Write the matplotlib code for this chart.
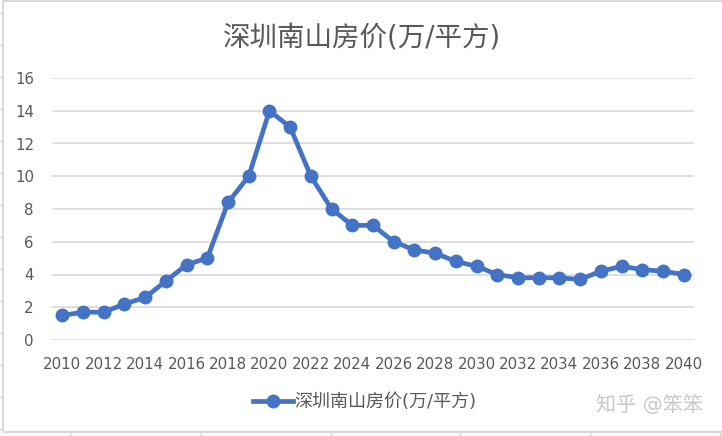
import matplotlib
matplotlib.use("Agg")
from matplotlib import pyplot as plt
from matplotlib.lines import Line2D
import numpy as np

# fonts: latin first, CJK as fallback
plt.rcParams['font.family'] = ['DejaVu Sans', 'Noto Sans CJK SC']

# data
years = list(range(2010, 2041))
price = [1.5, 1.7, 1.7, 2.2, 2.6, 3.6, 4.6, 5.0, 8.4, 10.0,
         14.0, 13.0, 10.0, 8.0, 7.0, 7.0, 6.0, 5.5, 5.3, 4.8,
         4.5, 4.0, 3.8, 3.8, 3.8, 3.7, 4.2, 4.5, 4.3, 4.2, 4.0]
tick_years = years[::2]
y_ticks = [0, 2, 4, 6, 8, 10, 12, 14, 16]
title = "深圳南山房价(万/平方)"

W, H = 722, 436
fig = plt.figure(figsize=(W / 100, H / 100), dpi=100)

def px(x, y):
    # pixel (from top-left) -> figure fraction
    return x / W, 1 - y / H

# spreadsheet background: cell marks and chart area border
for yy in range(13, 436, 32):
    fig.add_artist(Line2D([0, 3 / W], [1 - yy / H] * 2, color='#D0D0D0', lw=1))
for xx in [70, 201, 331, 460, 590, 720]:
    fig.add_artist(Line2D([xx / W] * 2, [0, 4 / H], color='#D0D0D0', lw=1))
fig.add_artist(Line2D([3 / W, 3 / W, 1.0], [1 - 1 / H, 1 - 432 / H, 1 - 432 / H],
                      color='#D9D9D9', lw=1.5))
fig.add_artist(Line2D([3 / W, 1.0], [1 - 1 / H, 1 - 1 / H], color='#D9D9D9', lw=1.5))

left, right = 52, 694
top, bottom = 78, 340
ax = fig.add_axes([left / W, 1 - bottom / H, (right - left) / W, (bottom - top) / H])

x = np.arange(len(years))
line, = ax.plot(x, price, color='#4472C4', lw=3.4, marker='o', markersize=9,
                label=title, solid_joinstyle='round')

ax.set_xlim(-0.5, len(years) - 0.5)
ax.set_ylim(0, 16)
ax.set_yticks(y_ticks)
ax.set_xticks(x[::2])
ax.set_xticklabels([str(t) for t in tick_years])
ax.tick_params(axis='both', length=0, labelsize=10.8, colors='#595959')
ax.tick_params(axis='y', pad=13)
ax.tick_params(axis='x', pad=12)
ax.grid(axis='y', color='#D9D9D9', lw=1.2)
ax.set_axisbelow(True)
for s in ax.spines.values():
    s.set_visible(False)

fig.text(*px(362, 38), title, ha='center', va='center', fontsize=19.8, color='#595959')

fig.legend(handles=[line], loc='center', bbox_to_anchor=px(365, 402), frameon=False,
           fontsize=13, labelcolor='#595959', handlelength=2.2, handletextpad=0.1)

fig.text(*px(650, 405), "知乎 @笨笨", ha='center', va='center', fontsize=14.5,
         color='#C8C8C8')

fig.savefig("out.png", dpi=100)
